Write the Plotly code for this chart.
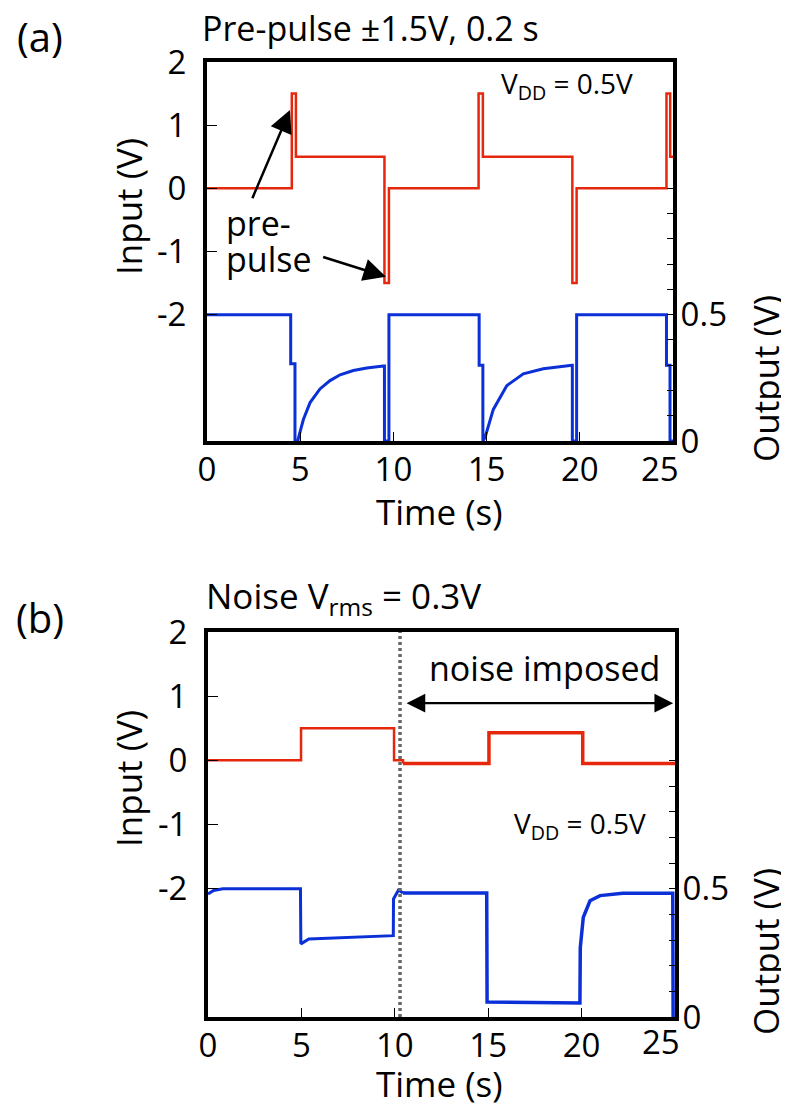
import plotly.graph_objects as go

W, H = 789, 1108
OFF = 8  # page body margin offset compensation
FONT = "Open Sans"
RED = "#e5280c"
BLUE = "#0c30d8"

# ---------------- data: panel (a) pre-pulse ----------------
a_in_t = [0, 4.55, 4.77, 9.52, 9.76, 14.57, 14.80, 19.60, 19.83, 24.65, 24.85, 25.0]
a_in_v = [0, 1.5, 0.5, -1.5, 0, 1.5, 0.5, -1.5, 0, 1.5, 0.5, 0.5]

a_out_t = [0, 4.49, 4.49, 4.72, 4.72, 4.88, 4.90, 5.17, 5.53, 6.06, 6.60, 7.14, 7.85, 8.57, 9.46,
           9.52, 9.52, 9.76, 9.76, 14.60, 14.60, 14.80, 14.80, 14.91, 15.36, 16.08, 16.97, 18.04,
           19.58, 19.60, 19.60, 19.83, 19.83, 24.65, 24.65, 24.84, 24.84, 25.0]
a_out_v = [0.5, 0.5, 0.306, 0.306, 0, 0, 0.011, 0.085, 0.152, 0.206, 0.239, 0.262, 0.279, 0.289, 0.297,
           0.297, 0, 0, 0.5, 0.5, 0.3, 0.3, 0, 0.012, 0.125, 0.219, 0.266, 0.286,
           0.300, 0.300, 0, 0, 0.5, 0.5, 0.3, 0.3, 0, 0]

# ---------------- data: panel (b) noise ----------------
NOISE_START = 10.28
b_in_t = [0, 4.98, 9.96, 10.44]
b_in_v = [0, 0.5, 0, -0.05]
b_in_noisy_t = [10.44, 15.04, 20.06, 25.0]
b_in_noisy_v = [-0.05, 0.43, -0.05, -0.05]

b_out_t = [0, 0.3, 0.8, 4.95, 4.97, 5.4, 9.92, 9.93, 10.2, 10.44]
b_out_v = [0.479, 0.493, 0.5, 0.5, 0.285, 0.304, 0.317, 0.46, 0.495, 0.483]
b_out_noisy_t = [10.44, 14.92, 14.94, 19.91, 19.93, 20.09, 20.45, 20.99, 22.2, 24.88, 24.90]
b_out_noisy_v = [0.483, 0.483, 0.058, 0.055, 0.27, 0.388, 0.453, 0.473, 0.482, 0.482, 0]

# ---------------- tick labels ----------------
x_ticks = [0, 5, 10, 15, 20, 25]
x_ticktext = ["0", "5", "10", "15", "20", " "]   # "25" drawn as a label nudged left (as in the original)
LAST_X_LABEL = "25"
in_ticks = [-2, -1, 0, 1, 2]
in_ticktext = ["-2", "-1", "0", "1", "2"]
out_ticks = [0, 0.1, 0.2, 0.3, 0.4, 0.5, 0.6, 0.7, 0.8, 0.9, 1.0]
out_ticktext = ["0", " ", " ", " ", " ", "0.5", " ", " ", " ", " ", " "]

fig = go.Figure()
fig.add_trace(go.Scatter(x=a_in_t, y=a_in_v, mode="lines", line=dict(color=RED, width=2.5, shape="hv"),
                         xaxis="x", yaxis="y"))
fig.add_trace(go.Scatter(x=a_out_t, y=a_out_v, mode="lines", line=dict(color=BLUE, width=3),
                         xaxis="x", yaxis="y2"))
fig.add_trace(go.Scatter(x=b_in_t, y=b_in_v, mode="lines", line=dict(color=RED, width=2.5, shape="hv"),
                         xaxis="x2", yaxis="y3"))
fig.add_trace(go.Scatter(x=b_in_noisy_t, y=b_in_noisy_v, mode="lines", line=dict(color=RED, width=3.5, shape="hv"),
                         xaxis="x2", yaxis="y3"))
fig.add_trace(go.Scatter(x=b_out_t, y=b_out_v, mode="lines", line=dict(color=BLUE, width=3),
                         xaxis="x2", yaxis="y4"))
fig.add_trace(go.Scatter(x=b_out_noisy_t, y=b_out_noisy_v, mode="lines", line=dict(color=BLUE, width=3.5),
                         xaxis="x2", yaxis="y4"))

def px(x):
    return (x - OFF) / W

def py(y):
    return 1 - (y - OFF) / H

TICK_SIZE = 33
tickfont = dict(family=FONT, size=TICK_SIZE, color="black")
frame = dict(showline=True, linewidth=4, linecolor="black", showgrid=False, zeroline=False, automargin=False)

def xax(domain, anchor):
    return dict(domain=domain, anchor=anchor, range=[0, 25], tickvals=x_ticks, ticktext=x_ticktext,
                ticks="inside", ticklen=9, tickwidth=1.3, tickcolor="black", mirror=True,
                tickfont=tickfont, ticklabelstandoff=-4, **frame)

def yin(domain, anchor):
    return dict(domain=domain, anchor=anchor, range=[-4.0, 2.0], tickvals=in_ticks, ticktext=in_ticktext,
                ticks="inside", ticklen=10, tickwidth=1.3, tickcolor="black", mirror=True,
                tickfont=tickfont, ticklabelstandoff=10, **frame)

def yout(overlay, anchor):
    return dict(overlaying=overlay, anchor=anchor, side="right", range=[0, 1.5], tickvals=out_ticks,
                ticktext=out_ticktext, ticks="inside", ticklen=6, tickwidth=1.3, tickcolor="black",
                tickfont=tickfont, ticklabelstandoff=-3, **frame)

fig.update_layout(
    width=W, height=H, margin=dict(l=0, r=0, t=0, b=0, pad=0, autoexpand=False),
    paper_bgcolor="white", plot_bgcolor="white", showlegend=False,
    font=dict(family=FONT, color="black"),
    xaxis=xax([px(207), px(673)], "y"),
    yaxis=yin([py(441), py(62)], "x"),
    yaxis2=yout("y", "x"),
    xaxis2=xax([px(208), px(675)], "y3"),
    yaxis3=yin([py(1017), py(632)], "x2"),
    yaxis4=yout("y3", "x2"),
)

fig.add_shape(type="line", xref="x2", yref="y3 domain", x0=NOISE_START, x1=NOISE_START, y0=0, y1=1,
              line=dict(color="#666666", width=3.5, dash="3px,3px"))

ann = []
def text(x, y, s, size, xanchor="center", angle=0):
    ann.append(dict(x=px(x), y=py(y), xref="paper", yref="paper", text=s, showarrow=False,
                    xanchor=xanchor, yanchor="middle", textangle=angle,
                    font=dict(family=FONT, size=size, color="black")))

text(40, 36, "(a)", 40)
text(40, 617, "(b)", 40)
text(200, 28, "Pre-pulse ±1.5V, 0.2 s", 34, xanchor="left")
text(204, 597, "Noise V<sub>rms</sub> = 0.3V", 35, xanchor="left")
text(128, 207, "Input (V)", 35, angle=-90)
text(128, 779, "Input (V)", 35, angle=-90)
text(765, 379, "Output (V)", 35, angle=-90)
text(765, 952, "Output (V)", 35, angle=-90)
text(439, 511, "Time (s)", 35)
text(439, 1083, "Time (s)", 35)
text(660, 468, LAST_X_LABEL, TICK_SIZE)
text(661, 1041, LAST_X_LABEL, TICK_SIZE)
text(567, 85, "V<sub>DD</sub> = 0.5V", 28)
text(580, 825, "V<sub>DD</sub> = 0.5V", 28)
text(224, 223, "pre-", 34, xanchor="left")
text(224, 259, "pulse", 34, xanchor="left")
text(544, 668, "noise imposed", 34)

# arrows
ann.append(dict(x=4.45, y=1.24, ax=2.40, ay=-0.18, xref="x", yref="y", axref="x", ayref="y",
                text="", showarrow=True, arrowhead=2, arrowsize=1.8, arrowwidth=2.5, arrowcolor="black"))
ann.append(dict(x=9.60, y=-1.40, ax=6.15, ay=-1.08, xref="x", yref="y", axref="x", ayref="y",
                text="", showarrow=True, arrowhead=2, arrowsize=1.8, arrowwidth=2.5, arrowcolor="black"))
ann.append(dict(x=24.9, y=0.89, ax=10.55, ay=0.89, xref="x2", yref="y3", axref="x2", ayref="y3",
                text="", showarrow=True, arrowhead=2, startarrowhead=2, arrowside="end+start",
                arrowsize=1.7, startarrowsize=1.7, arrowwidth=2.2, arrowcolor="black"))

fig.update_layout(annotations=ann)
fig.write_html("out.html")
